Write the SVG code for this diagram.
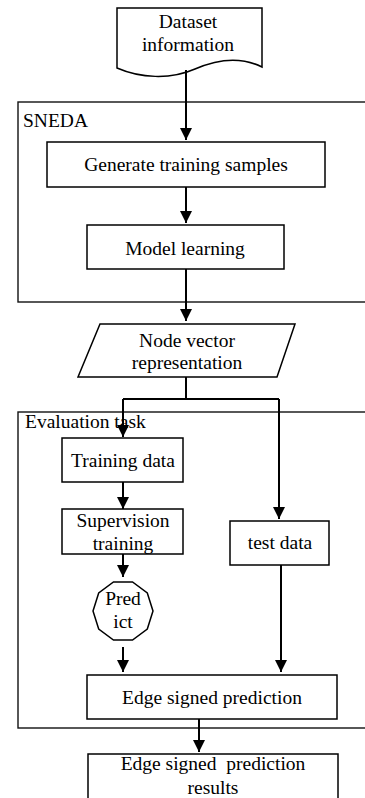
<svg xmlns="http://www.w3.org/2000/svg" width="365" height="798" viewBox="0 0 365 798">
<defs>
<marker id="ah" markerUnits="userSpaceOnUse" markerWidth="12" markerHeight="12" refX="12" refY="6" orient="auto">
<path d="M0,0 L12,6 L0,12 Z" fill="#000"/>
</marker>
<style>
.box{fill:#fff;stroke:#000;stroke-width:1.5}
.cont{fill:none;stroke:#111;stroke-width:1.4}
.t{font-family:"Liberation Serif","Times New Roman",serif;font-size:19.5px;fill:#000;text-anchor:middle}
.tl{font-family:"Liberation Serif","Times New Roman",serif;font-size:19.5px;fill:#000}
.c{fill:none;stroke:#000;stroke-width:2}
.ca{fill:none;stroke:#000;stroke-width:2;marker-end:url(#ah)}
</style>
</defs>
<rect width="365" height="798" fill="#fff"/>
<g id="sneda">
<rect class="cont" x="18" y="102" width="360" height="200"/>
<text class="tl" x="23" y="127">SNEDA</text>
</g>
<g id="evaluation">
<rect class="cont" x="18" y="412" width="360" height="316"/>
<text class="tl" x="25" y="428">Evaluation task</text>
</g>
<g id="dataset">
<path class="box" d="M117,8 H262 V67 C242,57 220,58 195,69 C170,80 140,78 117,68 Z"/>
<text class="t" x="188" y="28">Dataset</text>
<text class="t" x="188" y="51">information</text>
</g>
<g id="generate">
<rect class="box" x="47" y="142" width="278" height="45"/>
<text class="t" x="186" y="171">Generate training samples</text>
</g>
<g id="model">
<rect class="box" x="87" y="225" width="197" height="44"/>
<text class="t" x="185" y="255">Model learning</text>
</g>
<g id="nodevector">
<path class="box" d="M100,324 H295 L277,377 H78 Z"/>
<text class="t" x="187" y="347">Node vector</text>
<text class="t" x="187" y="369">representation</text>
</g>
<g id="training">
<rect class="box" x="62" y="438" width="121" height="44"/>
<text class="t" x="123" y="467">Training data</text>
</g>
<g id="supervision">
<rect class="box" x="62" y="509" width="121" height="45"/>
<text class="t" x="123" y="527">Supervision</text>
<text class="t" x="123" y="550">training</text>
</g>
<g id="test">
<rect class="box" x="230" y="521" width="99" height="44"/>
<text class="t" x="280" y="549">test data</text>
</g>
<g id="predict">
<path class="box" d="M113.5,582 H132.5 L147.3,593 L153,611 L147.3,629 L132.5,640 H113.5 L98.7,629 L93,611 L98.7,593 Z"/>
<text class="t" x="123" y="605">Pred</text>
<text class="t" x="123" y="628">ict</text>
</g>
<g id="edge">
<rect class="box" x="87" y="675" width="250" height="44"/>
<text class="t" x="212" y="704">Edge signed prediction</text>
</g>
<g id="results">
<rect class="box" x="88" y="754" width="250" height="60"/>
<text class="t" x="213" y="770" xml:space="preserve" style="white-space:pre">Edge signed  prediction</text>
<text class="t" x="213" y="794">results</text>
</g>
<g id="connectors">
<path class="ca" d="M186,70 V140"/>
<path class="ca" d="M186,187 V223"/>
<path class="ca" d="M186,269 V321"/>
<path class="c" d="M186,377 V399 M123,399 H279"/>
<path class="ca" d="M123,399 V437"/>
<path class="ca" d="M279,399 V519"/>
<path class="ca" d="M123,482 V509"/>
<path class="ca" d="M123,554 V577"/>
<path class="ca" d="M123,647 V672"/>
<path class="ca" d="M281,565 V672"/>
<path class="ca" d="M199,719 V752"/>
</g>
</svg>
